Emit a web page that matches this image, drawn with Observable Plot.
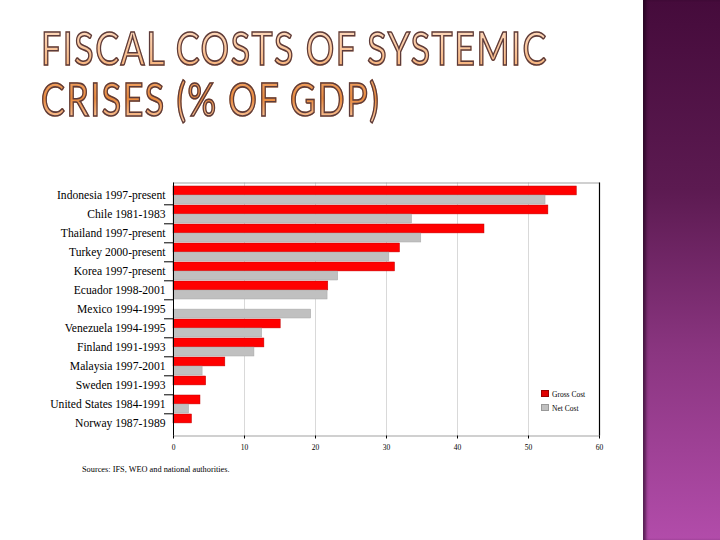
<!DOCTYPE html>
<html>
<head>
<meta charset="utf-8">
<script src="https://cdn.jsdelivr.net/npm/d3@7"></script>
<script src="https://cdn.jsdelivr.net/npm/@observablehq/plot@0.6"></script>
<style>
  html, body { margin: 0; padding: 0; background: #fff; }
  #slide { position: relative; width: 720px; height: 540px; overflow: hidden; background: #fff; }
  #band { position: absolute; left: 643px; top: 0; width: 77px; height: 540px;
    background: linear-gradient(180deg, #450b3b 0%, #5c1a51 35%, #8a3580 65%, #b24caa 100%);
    box-shadow: inset 4px 0 3px -1px rgba(20,0,20,0.55); }
  #title { position: absolute; left: 41px; top: 22px; white-space: nowrap;
    transform: scaleX(0.76); transform-origin: left top;
    font-family: "Lato", "Open Sans", sans-serif; font-weight: 400; font-size: 47px; line-height: 51px;
    letter-spacing: 2px;
    background: linear-gradient(180deg, #ffe0c8 0%, #f6b27a 45%, #e98a3e 75%, #ffd3b0 100%);
    -webkit-background-clip: text; background-clip: text; color: transparent;
    -webkit-text-stroke: 1.6px #5b3b3b; }
  #chart { position: absolute; left: 0; top: 170px; }
  #sources { position: absolute; left: 82px; top: 465px; font-family: "Liberation Serif", serif; font-size: 8.3px; color: #000; }
  #legend { position: absolute; left: 541px; top: 388px; font-family: "Liberation Serif", serif; font-size: 7.5px; color: #000; line-height: 14px; }
  #legend span.sw { display: inline-block; width: 6px; height: 5px; margin-right: 3px; vertical-align: 0px; }
</style>
</head>
<body>
<div id="slide">
  <div id="band"></div>
  <div id="title">FISCAL COSTS OF SYSTEMIC<br>CRISES (% OF GDP)</div>
  <div id="chart"></div>
  <div id="legend">
    <div><span class="sw" style="background:#e00000;border:0.5px solid #900"></span>Gross Cost</div>
    <div><span class="sw" style="background:#c0c0c0;border:0.5px solid #999"></span>Net Cost</div>
  </div>
  <div id="sources">Sources: IFS, WEO and national authorities.</div>
</div>
<script>
const categories = [
  "Indonesia 1997-present", "Chile 1981-1983", "Thailand 1997-present", "Turkey 2000-present",
  "Korea 1997-present", "Ecuador 1998-2001", "Mexico 1994-1995", "Venezuela 1994-1995",
  "Finland 1991-1993", "Malaysia 1997-2001", "Sweden 1991-1993", "United States 1984-1991",
  "Norway 1987-1989"
];
const grossCost = [56.8, 52.8, 43.8, 31.9, 31.2, 21.8, null, 15.1, 12.8, 7.3, 4.6, 3.8, 2.6];
const netCost   = [52.4, 33.6, 34.9, 30.4, 23.2, 21.7, 19.4, 12.5, 11.4, 4.1, null, 2.2, null];
const xTicks = [0, 10, 20, 30, 40, 50, 60];
const gridTicks = [10, 20, 30, 40, 50];

const grossData = categories.map((c, i) => ({category: c, value: grossCost[i]})).filter(d => d.value != null);
const netData = categories.map((c, i) => ({category: c, value: netCost[i]})).filter(d => d.value != null);

const serif = "Liberation Serif, Times New Roman, serif";

const chart = Plot.plot({
  width: 620,
  height: 300,
  marginLeft: 173,
  marginRight: 21,
  marginTop: 12.5,
  marginBottom: 34.5,
  style: {background: "transparent", fontFamily: serif, color: "#000"},
  x: {domain: [0, 60], label: null},
  y: {type: "band", domain: categories, paddingInner: 0.05, paddingOuter: 0.08, label: null},
  marks: [
    Plot.ruleX(gridTicks, {stroke: "#cfcfcf", strokeWidth: 0.8}),
    Plot.barX(grossData, {y: "category", x: "value", fill: "#ff0000", stroke: "#c00000", strokeWidth: 0.5, insetBottom: 9.1}),
    Plot.barX(netData, {y: "category", x: "value", fill: "#c0c0c0", stroke: "#a8a8a8", strokeWidth: 0.5, insetTop: 9.1}),
    Plot.frame({stroke: "#8a8a8a", strokeWidth: 0.8}),
    Plot.ruleX([0], {stroke: "#000", strokeWidth: 1}),
    Plot.ruleX([60], {stroke: "#000", strokeWidth: 1.2}),
    Plot.axisY({tickSize: 0, tickPadding: 8, fontSize: 11.6, fill: "#000", label: null}),
    Plot.axisY(categories.slice(1), {text: null, tickSize: 9, dy: -9.7, stroke: "#000", label: null}),
    Plot.axisX(xTicks, {tickSize: 3, tickPadding: 6, fontSize: 7.5, fill: "#000", tickFormat: d => String(d), label: null})
  ]
});
document.getElementById("chart").appendChild(chart);
</script>
</body>
</html>
